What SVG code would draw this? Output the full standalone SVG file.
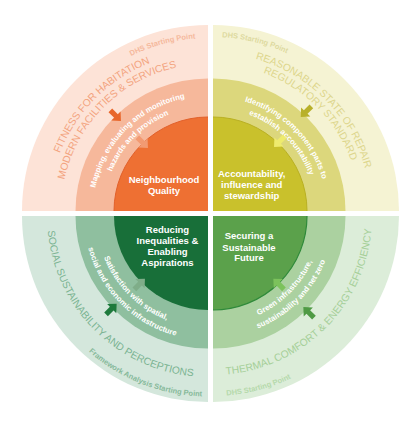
<svg xmlns="http://www.w3.org/2000/svg" xmlns:xlink="http://www.w3.org/1999/xlink" width="420" height="425" viewBox="0 0 420 425">
<style>
text{font-family:"Liberation Sans",Arial,sans-serif}
.lbl{font-size:10.3px}
.sp{font-size:7.5px;font-weight:bold}
.mid{font-size:7.8px;font-weight:bold;fill:#fff}
.in{font-size:9.5px;font-weight:bold;fill:#fff;text-anchor:middle}
</style>
<defs>
<path id="arr" d="M-8,-2.6 L0,-2.6 L0,-6.5 L7,0 L0,6.5 L0,2.6 L-8,2.6 Z"/>
<path id="tl1" d="M49,211 A159,159 0 0 1 208,52"/>
<path id="tl2" d="M61,211 A147,147 0 0 1 208,64"/>
<path id="tl3" d="M35,211 A173,173 0 0 1 208,38"/>
<path id="tl4" d="M93,211 A115,115 0 0 1 208,96"/>
<path id="tl5" d="M104,211 A104,104 0 0 1 208,107"/>
<path id="tr1" d="M213,53 A158,158 0 0 1 371,211"/>
<path id="tr2" d="M213,64 A147,147 0 0 1 360,211"/>
<path id="tr3" d="M213,37 A174,174 0 0 1 387,211"/>
<path id="tr4" d="M213,97 A114,114 0 0 1 327,211"/>
<path id="tr5" d="M213,108 A103,103 0 0 1 316,211"/>
<path id="bl1" d="M47,216 A161,161 0 0 0 208,377"/>
<path id="bl3" d="M27.5,216 A180.5,180.5 0 0 0 208,396.5"/>
<path id="bl4" d="M96,216 A112,112 0 0 0 208,328"/>
<path id="bl5" d="M84,216 A124,124 0 0 0 208,340"/>
<path id="br1" d="M213,375 A159,159 0 0 0 372,216"/>
<path id="br3" d="M213,396 A180,180 0 0 0 393,216"/>
<path id="br4" d="M213,325 A109,109 0 0 0 322,216"/>
<path id="br5" d="M213,337 A121,121 0 0 0 334,216"/>
</defs>
<rect width="420" height="425" fill="#fff"/>

<g id="q-fitness">
<path d="M208,211 L22,211 A186,186 0 0 1 208,25 Z" fill="#fde3d7"/>
<path d="M208,211 L75.5,211 A132.5,132.5 0 0 1 208,78.5 Z" fill="#f6b89b"/>
<path d="M208,211 L114,211 A94,94 0 0 1 208,117 Z" fill="#ee7033"/>
<path d="M114,211 A94,94 0 0 1 208,117" fill="none" stroke="#e2602a" stroke-width="1"/>
<text class="lbl" fill="#f3a47f"><textPath xlink:href="#tl1" href="#tl1" startOffset="50%" text-anchor="middle">FITNESS FOR HABITATION</textPath></text>
<text class="lbl" fill="#f3a47f"><textPath xlink:href="#tl2" href="#tl2" startOffset="50%" text-anchor="middle">MODERN FACILITIES &amp; SERVICES</textPath></text>
<text class="sp" fill="#f5b99d"><textPath xlink:href="#tl3" href="#tl3" startOffset="83%" text-anchor="middle">DHS Starting Point</textPath></text>
<text class="mid"><textPath xlink:href="#tl4" href="#tl4" startOffset="50%" text-anchor="middle">Mapping, evaluating and monitoring</textPath></text>
<text class="mid"><textPath xlink:href="#tl5" href="#tl5" startOffset="50%" text-anchor="middle">hazards and provision</textPath></text>
<text class="in" x="164" y="182.5">Neighbourhood</text>
<text class="in" x="164" y="194">Quality</text>
</g>

<g id="q-repair">
<path d="M213,211 L213,25 A186,186 0 0 1 399,211 Z" fill="#f5f3d3"/>
<path d="M213,211 L213,78.5 A132.5,132.5 0 0 1 345.5,211 Z" fill="#dcd77c"/>
<path d="M213,211 L213,117 A94,94 0 0 1 307,211 Z" fill="#c9c12c"/>
<path d="M213,117 A94,94 0 0 1 307,211" fill="none" stroke="#b9b022" stroke-width="1"/>
<text class="lbl" fill="#ddd68c"><textPath xlink:href="#tr1" href="#tr1" startOffset="50%" text-anchor="middle">REASONABLE STATE OF REPAIR</textPath></text>
<text class="lbl" fill="#ddd68c"><textPath xlink:href="#tr2" href="#tr2" startOffset="50%" text-anchor="middle">REGULATORY STANDARD</textPath></text>
<text class="sp" fill="#dedaa0"><textPath xlink:href="#tr3" href="#tr3" startOffset="15.6%" text-anchor="middle">DHS Starting Point</textPath></text>
<text class="mid"><textPath xlink:href="#tr4" href="#tr4" startOffset="50%" text-anchor="middle">Identifying component parts to</textPath></text>
<text class="mid"><textPath xlink:href="#tr5" href="#tr5" startOffset="50%" text-anchor="middle">establish accountability</textPath></text>
<text class="in" x="251.7" y="177">Accountability,</text>
<text class="in" x="251.7" y="188">influence and</text>
<text class="in" x="251.7" y="199">stewardship</text>
</g>

<g id="q-social">
<path d="M208,216 L208,402 A186,186 0 0 1 22,216 Z" fill="#d4e7dc"/>
<path d="M208,216 L208,348.5 A132.5,132.5 0 0 1 75.5,216 Z" fill="#8fbf9f"/>
<path d="M208,216 L208,310 A94,94 0 0 1 114,216 Z" fill="#186f39"/>
<text class="lbl" fill="#7ab391"><textPath xlink:href="#bl1" href="#bl1" startOffset="50%" text-anchor="middle">SOCIAL SUSTAINABILITY AND PERCEPTIONS</textPath></text>
<text class="sp" fill="#86b99a"><textPath xlink:href="#bl3" href="#bl3" startOffset="76%" text-anchor="middle">Framework Analysis Starting Point</textPath></text>
<text class="mid"><textPath xlink:href="#bl4" href="#bl4" startOffset="50%" text-anchor="middle">Satisfaction with spatial,</textPath></text>
<text class="mid"><textPath xlink:href="#bl5" href="#bl5" startOffset="50%" text-anchor="middle">social and economic infrastructure</textPath></text>
<text class="in" x="167.5" y="232.7">Reducing</text>
<text class="in" x="167.5" y="244">Inequalities &amp;</text>
<text class="in" x="167.5" y="255">Enabling</text>
<text class="in" x="167.5" y="266">Aspirations</text>
</g>

<g id="q-thermal">
<path d="M213,216 L399,216 A186,186 0 0 1 213,402 Z" fill="#dcedd9"/>
<path d="M213,216 L345.5,216 A132.5,132.5 0 0 1 213,348.5 Z" fill="#abd1a0"/>
<path d="M213,216 L307,216 A94,94 0 0 1 213,310 Z" fill="#5ba14b"/>
<path d="M307,216 A94,94 0 0 1 213,310" fill="none" stroke="#2f8a3a" stroke-width="1.2"/>
<text class="lbl" fill="#a5cf98"><textPath xlink:href="#br1" href="#br1" startOffset="50%" text-anchor="middle">THERMAL COMFORT &amp; ENERGY EFFICIENCY</textPath></text>
<text class="sp" fill="#b5d9ab"><textPath xlink:href="#br3" href="#br3" startOffset="16.7%" text-anchor="middle">DHS Starting Point</textPath></text>
<text class="mid"><textPath xlink:href="#br4" href="#br4" startOffset="50%" text-anchor="middle">Green infrastructure,</textPath></text>
<text class="mid"><textPath xlink:href="#br5" href="#br5" startOffset="50%" text-anchor="middle">sustainability and net zero</textPath></text>
<text class="in" x="249" y="239.3">Securing a</text>
<text class="in" x="249" y="250.7">Sustainable</text>
<text class="in" x="249" y="261.3">Future</text>
</g>

<g id="connectors">
<use href="#arr" xlink:href="#arr" fill="#e8662a" transform="translate(116,116) rotate(45)"/>
<use href="#arr" xlink:href="#arr" fill="#f29a72" transform="translate(143,143) rotate(45)"/>
<use href="#arr" xlink:href="#arr" fill="#b8b02a" transform="translate(305.7,112) rotate(135)"/>
<use href="#arr" xlink:href="#arr" fill="#eeeb6e" transform="translate(279,142) rotate(135)"/>
<use href="#arr" xlink:href="#arr" fill="#1e7a3c" transform="translate(111.7,308.7) rotate(-45)"/>
<use href="#arr" xlink:href="#arr" fill="#7fad89" transform="translate(140,283.7) rotate(-45)"/>
<use href="#arr" xlink:href="#arr" fill="#4f9a44" transform="translate(308.3,312) rotate(-135)"/>
<use href="#arr" xlink:href="#arr" fill="#7cc25c" transform="translate(278.3,283.7) rotate(-135)"/>
</g>
</svg>
